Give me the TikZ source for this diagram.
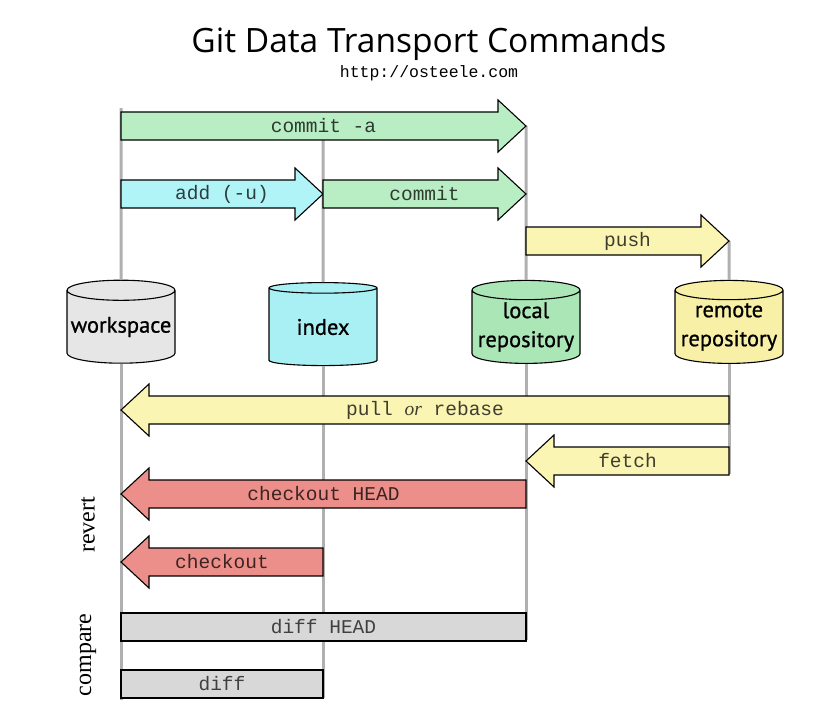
\documentclass[tikz,border=0pt]{standalone}
\usepackage{fontspec}
\setmainfont{Liberation Serif}
\setmonofont{Liberation Mono}
\newfontfamily\titlefont{Open Sans}
\newfontfamily\storefont[FakeBold=0.8]{PT Sans}
\usepackage{xcolor}
\usetikzlibrary{calc, positioning, shapes.geometric}

\definecolor{cgreen}{HTML}{B9EEC4}
\definecolor{ccyan}{HTML}{B0F4F8}
\definecolor{cyellow}{HTML}{FBF5B4}
\definecolor{cred}{HTML}{EC8F8A}
\definecolor{cgray}{HTML}{D8D8D8}
\definecolor{cws}{HTML}{E6E6E6}
\definecolor{cix}{HTML}{A9F0F4}
\definecolor{clr}{HTML}{ABE6B7}
\definecolor{crr}{HTML}{F8F0A6}
\definecolor{crail}{HTML}{B0B0B0}

\begin{document}
\begin{tikzpicture}[
      x=1pt, y=-1pt,
      store/.style={
         cylinder,
         shape border rotate=90,
         aspect=0.2,
         draw=black,
         line width=1.1pt,
         minimum width=108pt,
         minimum height=83pt,
         inner sep=0pt,
         align=center,
         font=\storefont\fontsize{22.5}{29}\selectfont},
      rail/.style={draw=crail, line width=3pt},
      bigarrow/.style={draw=black, line width=1.1pt, line join=miter},
      cmd/.style={font=\ttfamily\fontsize{19.5}{21}\selectfont, inner sep=0pt},
      cmpbox/.style={draw=black, fill=cgray, line width=1.1pt},
      side/.style={rotate=90, font=\fontsize{24}{26}\selectfont}
      ]
      \useasboundingbox (0,0) rectangle (836,712);

      % the four places
      \node[store, fill=cws] at (121, 327) (ws) {workspace};
      \node[store, fill=cix] at (323, 327) (ix) {index};
      \node[store, fill=clr] at (526, 327) (lr) {local\\repository};
      \node[store, fill=crr] at (729, 327) (rr) {remote\\repository};

      \node[font=\titlefont\fontsize{33.5}{34}\selectfont] at (429, 44) (title) {Git Data Transport Commands};
      \node[font=\ttfamily\fontsize{16.5}{17}\selectfont, below=-2pt of title] (url) {http://osteele.com};

      % rails
      \path[rail] (ws |- 0,108) -- (ws.north);
      \path[rail] (ws.south) -- (ws |- 0,700);
      \path[rail] (ix |- 0,140) -- (ix.north);
      \path[rail] (ix.south) -- (ix |- 0,698);
      \path[rail] (lr |- 0,126) -- (lr.north);
      \path[rail] (lr.south) -- (lr |- 0,640);
      \path[rail] (rr |- 0,241) -- (rr.north);
      \path[rail] (rr.south) -- (rr |- 0,474);

    \foreach \s/\e/\ypos/\col/\txt in {% start/end/height/colour/text
      ws/lr/126/cgreen/{commit -a},
      ws/ix/194/ccyan/{add (-u)},
      ix/lr/194/cgreen/{commit},
      lr/rr/241/cyellow/{push},
      rr/ws/410/cyellow/{pull {\rmfamily\itshape or} rebase},
      rr/lr/461/cyellow/{fetch},
      lr/ws/494/cred/{checkout HEAD},
      ix/ws/562/cred/{checkout}
      }
      {
       \draw [bigarrow, fill=\col] let \p1=(\s |- 0,\ypos), \p2=(\e |- 0,\ypos),
             \n1={sign(\x2-\x1)} in
             (\x1,\y1+14pt) -- (\x2-\n1*28pt,\y1+14pt) -- (\x2-\n1*28pt,\y1+26pt)
             -- (\x2,\y1) -- (\x2-\n1*28pt,\y1-26pt) -- (\x2-\n1*28pt,\y1-14pt)
             -- (\x1,\y1-14pt) -- cycle;
       \node[cmd, text=\col!25!black] at ($(\s |- 0,\ypos)!0.5!(\e |- 0,\ypos)$) {\txt};
      }

      % compare boxes
      \draw[cmpbox] (ws |- 0,613) rectangle (lr |- 0,641);
      \node[cmd, text=black!75] at ($(ws |- 0,627)!0.5!(lr |- 0,627)$) (diffhead) {diff HEAD};
      \draw[cmpbox] (ws |- 0,670) rectangle (ix |- 0,698);
      \node[cmd, text=black!75] at ($(ws |- 0,684)!0.5!(ix |- 0,684)$) (diff) {diff};

      \node[side] at (88, 525) (revert) {revert};
      \node[side] at (88, 655) (compare) {compare};
\end{tikzpicture}
\end{document}
